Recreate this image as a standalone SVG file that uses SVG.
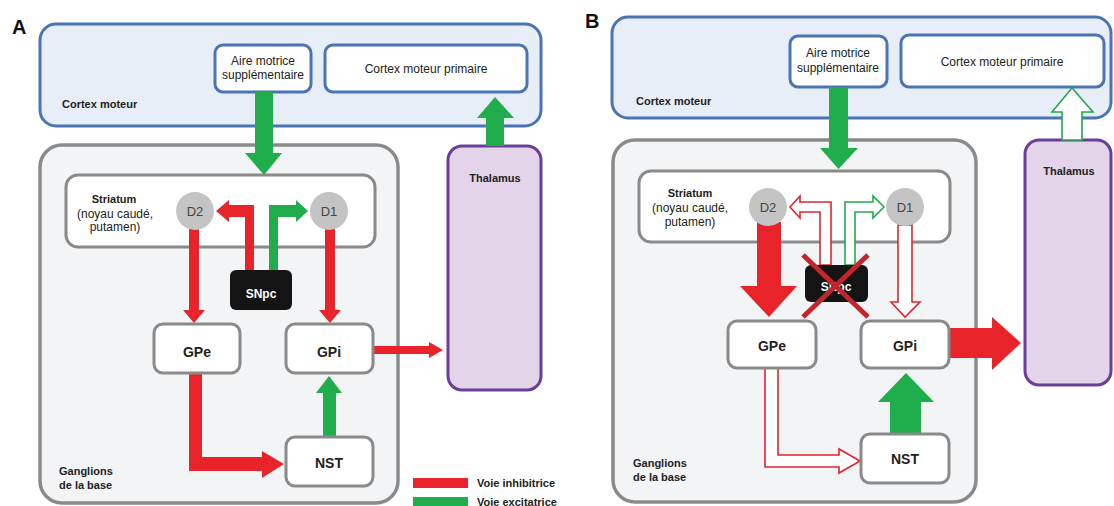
<svg xmlns="http://www.w3.org/2000/svg" width="1114" height="506" viewBox="0 0 1114 506">
<style>
text{font-family:"Liberation Sans",Arial,sans-serif;fill:#222}
.cortex{fill:#e7eef8;stroke:#4b74b3;stroke-width:3}
.cbox{fill:#fff;stroke:#4b74b3;stroke-width:3}
.gang{fill:#f3f4f6;stroke:#8a8a8a;stroke-width:3.5}
.box{fill:#fff;stroke:#8a8a8a;stroke-width:3}
.thal{fill:#e3d4ea;stroke:#6a3f98;stroke-width:3}
.dot{fill:#c4c4c4}
.snpc{fill:#141414}
.red{fill:#e8232a}
.green{fill:#1fae4b}
.ored{fill:#fff;stroke:#e0262c;stroke-width:1.6}
.ogreen{fill:#fff;stroke:#22ab4c;stroke-width:1.6}
.cross{stroke:#c0262c;stroke-width:5;stroke-linecap:butt}
.b{font-weight:bold}
.n{font-size:12px}
.lab{font-size:11px;font-weight:bold}
.nd{font-size:14px;font-weight:bold;text-anchor:middle}
.dd{font-size:13px;fill:#444;text-anchor:middle}
.mid{text-anchor:middle}
.panel{font-size:20px;font-weight:bold;fill:#111}
</style>

<!-- ================= PANEL A ================= -->
<text class="panel" x="12" y="34">A</text>
<g id="A-cortex">
  <rect class="cortex" x="40" y="24" width="501" height="102" rx="16"/>
  <text class="lab" x="62" y="108">Cortex moteur</text>
</g>
<g id="A-ams">
  <rect class="cbox" x="215" y="45" width="96" height="47" rx="8"/>
  <text class="n mid" x="263" y="65">Aire motrice</text>
  <text class="n mid" x="263" y="79">supplémentaire</text>
</g>
<g id="A-cmp">
  <rect class="cbox" x="325" y="45" width="202" height="47" rx="8"/>
  <text class="n mid" x="426" y="73">Cortex moteur  primaire</text>
</g>
<g id="A-ganglions">
  <rect class="gang" x="40" y="145" width="358" height="358" rx="22"/>
  <text class="lab" x="59" y="475">Ganglions</text>
  <text class="lab" x="59" y="489">de la base</text>
</g>
<g id="A-thalamus">
  <rect class="thal" x="448" y="146" width="93" height="244" rx="14"/>
  <text class="lab mid" x="495" y="182">Thalamus</text>
</g>
<g id="A-striatum">
  <rect class="box" x="66" y="175" width="309" height="72" rx="12"/>
  <text class="lab mid" x="114" y="203">Striatum</text>
  <text class="n mid" x="115" y="218">(noyau caudé,</text>
  <text class="n mid" x="115" y="231">putamen)</text>
</g>

<g id="A-connectors">
  <polygon class="green" points="255,92 273,92 273,153 282,153 264,175 245,153 255,153"/>
  <polygon class="green" points="486,146 486,118 477,118 495,97 514,118 504,118 504,146"/>
  <polygon class="red" points="254,270 254,205 229,205 229,200 216,211 229,222 229,217 245,217 245,270"/>
  <polygon class="green" points="269,270 269,205 296,205 296,200 308,211 296,222 296,217 278,217 278,270"/>
  <polygon class="red" points="189,225 199,225 199,310 205,310 194,323 183,310 189,310"/>
  <polygon class="red" points="325,225 335,225 335,310 341,310 330,323 319,310 325,310"/>
  <polygon class="red" points="373,346 429,346 429,342 443,350 429,358 429,354 373,354"/>
  <polygon class="green" points="323,437 323,393 316,393 329,376 342,393 336,393 336,437"/>
  <polygon class="red" points="189,373 189,471 262,471 262,478 284,464 262,451 262,457 202,457 202,373"/>
</g>

<g id="A-D2">
  <circle class="dot" cx="195" cy="211" r="19"/>
  <text class="dd" x="195" y="216">D2</text>
</g>
<g id="A-D1">
  <circle class="dot" cx="329" cy="211" r="19"/>
  <text class="dd" x="329" y="216">D1</text>
</g>
<g id="A-SNpc">
  <rect class="snpc" x="230" y="270" width="62" height="40" rx="6"/>
  <text class="b mid" x="261" y="298" style="fill:#fff;font-size:12px">SNpc</text>
</g>
<g id="A-GPe">
  <rect class="box" x="154" y="324" width="86" height="49" rx="9"/>
  <text class="nd" x="197" y="357">GPe</text>
</g>
<g id="A-GPi">
  <rect class="box" x="286" y="324" width="87" height="49" rx="9"/>
  <text class="nd" x="329" y="357">GPi</text>
</g>
<g id="A-NST">
  <rect class="box" x="286" y="437" width="87" height="49" rx="9"/>
  <text class="nd" x="329" y="468">NST</text>
</g>
<g id="A-legend">
  <rect class="red" x="413" y="478" width="55" height="10"/>
  <rect class="green" x="413" y="497" width="55" height="10"/>
  <text class="lab" x="477" y="487">Voie inhibitrice</text>
  <text class="lab" x="477" y="506">Voie excitatrice</text>
</g>

<!-- ================= PANEL B ================= -->
<text class="panel" x="585" y="28">B</text>
<g id="B-cortex">
  <rect class="cortex" x="612" y="17" width="499" height="101" rx="16"/>
  <text class="lab" x="636" y="105">Cortex moteur</text>
</g>
<g id="B-ams">
  <rect class="cbox" x="790" y="36" width="97" height="51" rx="8"/>
  <text class="n mid" x="838" y="57">Aire motrice</text>
  <text class="n mid" x="838" y="72">supplémentaire</text>
</g>
<g id="B-cmp">
  <rect class="cbox" x="901" y="35" width="203" height="52" rx="8"/>
  <text class="n mid" x="1002" y="66">Cortex moteur  primaire</text>
</g>
<g id="B-ganglions">
  <rect class="gang" x="613" y="140" width="363" height="362" rx="22"/>
  <text class="lab" x="633" y="467">Ganglions</text>
  <text class="lab" x="633" y="481">de la base</text>
</g>
<g id="B-thalamus">
  <rect class="thal" x="1025" y="140" width="86" height="245" rx="14"/>
  <text class="lab mid" x="1069" y="175">Thalamus</text>
</g>
<g id="B-striatum">
  <rect class="box" x="639" y="171" width="311" height="71" rx="12"/>
  <text class="lab mid" x="690" y="197">Striatum</text>
  <text class="n mid" x="690" y="212">(noyau caudé,</text>
  <text class="n mid" x="690" y="226">putamen)</text>
</g>

<g id="B-connectors">
  <polygon class="green" points="829,87 848,87 848,148 858,148 838.5,169 820,148 829,148"/>
  <polygon class="ogreen" points="1062,140 1062,112 1052,112 1072,88 1093,112 1082,112 1082,140"/>
  <polygon class="ored" points="831,265 831,202 800,202 800,196 790,207 800,218 800,212 820,212 820,265"/>
  <polygon class="ogreen" points="845,265 845,202 873,202 873,196 884,207 873,218 873,212 855,212 855,265"/>
  <polygon class="red" points="757,222 781,222 781,286 797,286 769,317 740,286 757,286"/>
  <polygon class="ored" points="898,225 912,225 912,302 920,302 905,317 891,302 898,302"/>
  <polygon class="red" points="949,328 992,328 992,317 1021,343 992,370 992,358 949,358"/>
  <polygon class="green" points="890,434 890,402 878,402 906,373 934,402 921,402 921,434"/>
  <polygon class="ored" points="765,368 765,467 839,467 839,473 860,461 839,449 839,455 778,455 778,368"/>
</g>

<g id="B-D2">
  <circle class="dot" cx="768" cy="207" r="19"/>
  <text class="dd" x="768" y="212">D2</text>
</g>
<g id="B-D1">
  <circle class="dot" cx="905" cy="207" r="19"/>
  <text class="dd" x="905" y="212">D1</text>
</g>
<g id="B-SNpc">
  <rect class="snpc" x="805" y="265" width="63" height="37" rx="6"/>
  <text class="b mid" x="836" y="291" style="fill:#fff;font-size:12px">SNpc</text>
  <line class="cross" x1="803" y1="255" x2="868" y2="317"/>
  <line class="cross" x1="868" y1="255" x2="803" y2="317"/>
</g>
<g id="B-GPe">
  <rect class="box" x="728" y="321" width="88" height="47" rx="9"/>
  <text class="nd" x="772" y="351">GPe</text>
</g>
<g id="B-GPi">
  <rect class="box" x="861" y="321" width="88" height="47" rx="9"/>
  <text class="nd" x="905" y="351">GPi</text>
</g>
<g id="B-NST">
  <rect class="box" x="861" y="434" width="88" height="49" rx="9"/>
  <text class="nd" x="905" y="464">NST</text>
</g>
</svg>
